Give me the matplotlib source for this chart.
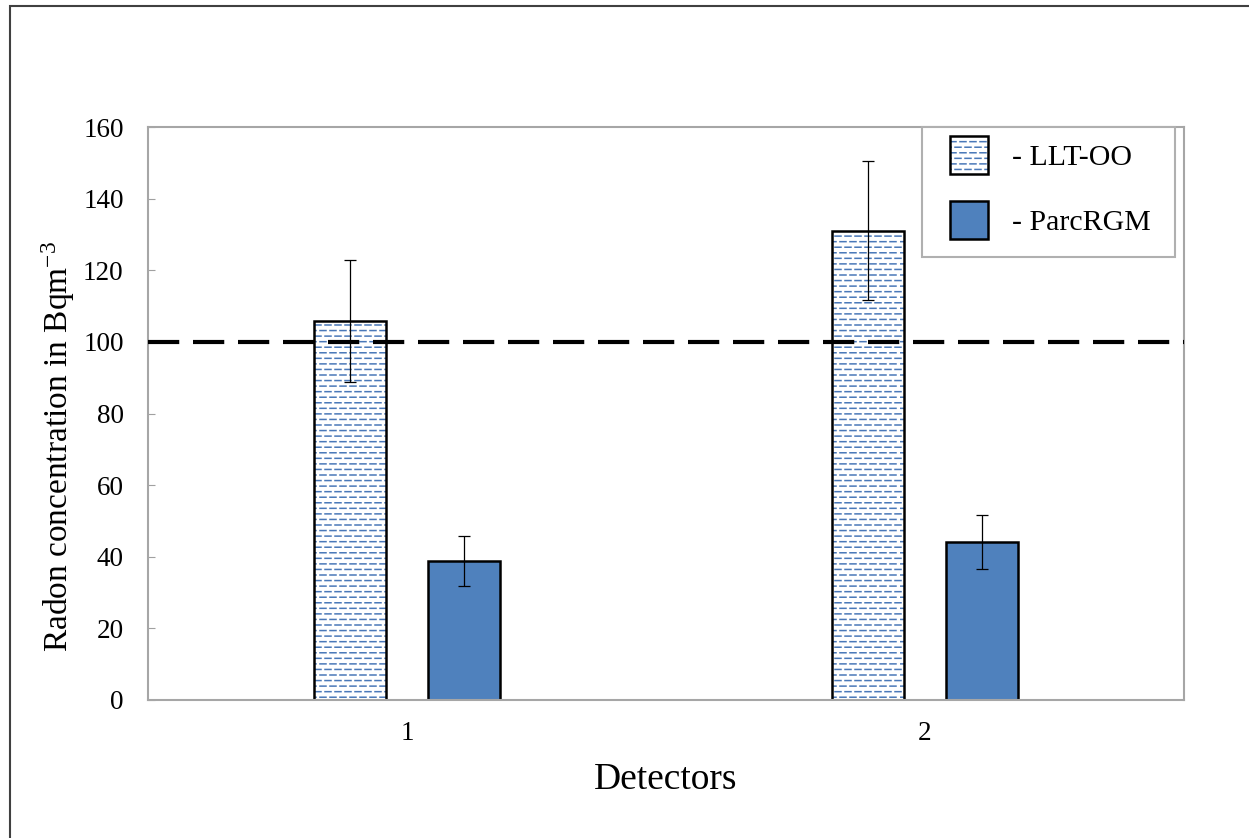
import numpy as np
from matplotlib import pyplot as plt
import matplotlib.hatch as mhatch
from matplotlib.path import Path
from matplotlib.patches import Rectangle

# data
detectors = ['1', '2']
llt_oo = [105.8, 131.0]
llt_oo_err = [17.0, 19.4]
parc_rgm = [38.8, 44.1]
parc_rgm_err = [7.0, 7.5]
threshold = 100
yticks = [0, 20, 40, 60, 80, 100, 120, 140, 160]


# excel-like "dashed horizontal" fill: short staggered dashes instead of full lines
class DashHatch(mhatch.HatchPatternBase):
    def __init__(self, hatch, density):
        self.num_rows = int(hatch.count('-') * density)
        self.num_dash = 10
        self.num_vertices = self.num_rows * (self.num_dash + 1) * 2

    def set_vertices_and_codes(self, vertices, codes):
        p = 1.0 / self.num_dash
        i = 0
        for r in range(self.num_rows):
            y = (r + 0.5) / self.num_rows
            off = 0.5 * p if r % 2 else 0.0
            for k in range(-1, self.num_dash):
                x0 = off + k * p
                x1 = x0 + 0.6 * p
                x0, x1 = max(x0, 0.0), min(x1, 1.0)
                if x1 <= x0:
                    x0 = x1 = 0.0
                vertices[i] = (x0, y)
                vertices[i + 1] = (x1, y)
                codes[i] = Path.MOVETO
                codes[i + 1] = Path.LINETO
                i += 2


mhatch._hatch_types = [DashHatch if t is mhatch.HorizontalHatch else t
                       for t in mhatch._hatch_types]

plt.rcParams['font.family'] = ['Liberation Serif', 'DejaVu Serif']
plt.rcParams['mathtext.fontset'] = 'custom'
plt.rcParams['mathtext.rm'] = 'Liberation Serif'
plt.rcParams['mathtext.it'] = 'Liberation Serif:italic'
plt.rcParams['hatch.linewidth'] = 1.1

fig = plt.figure(figsize=(12.49, 8.38), dpi=100)
ax = fig.add_axes([0.1185, 0.1647, 0.8295, 0.6837])

x = np.arange(len(detectors))
w = 0.139
off = 0.11
blue = '#4f81bd'

h1 = ax.bar(x - off, llt_oo, w, color='white', edgecolor='#4a78b8', hatch='---',
            linewidth=0, zorder=2)
h1b = ax.bar(x - off, llt_oo, w, fill=False, edgecolor='black', linewidth=1.8, zorder=2.1)
h2 = ax.bar(x + off, parc_rgm, w, color=blue, edgecolor='black', linewidth=1.8, zorder=2)

ax.axhline(threshold, color='black', linewidth=3, dashes=(7.5, 3.3), zorder=3)

ax.errorbar(x - off, llt_oo, yerr=llt_oo_err, fmt='none', ecolor='black',
            elinewidth=0.9, capsize=4.5, capthick=0.9, zorder=4)
ax.errorbar(x + off, parc_rgm, yerr=parc_rgm_err, fmt='none', ecolor='black',
            elinewidth=0.9, capsize=4.5, capthick=0.9, zorder=4)

ax.set_xlim(-0.5, 1.5)
ax.set_ylim(0, 160)
ax.set_yticks(yticks)
ax.set_xticks(x)
ax.set_xticklabels(detectors)
ax.tick_params(axis='y', direction='in', length=5, color='#a0a0a0', labelsize=19.5, pad=17.5)
ax.tick_params(axis='x', length=0, labelsize=19.5, pad=15)
for s in ax.spines.values():
    s.set_color('#a6a6a6')
    s.set_linewidth(1.5)

ax.set_ylabel('Radon concentration in Bqm$^{-3}$', fontsize=24)
ax.yaxis.set_label_coords(-0.069, 0.443)
ax.set_xlabel('Detectors', fontsize=27, labelpad=12)

# legend without its own frame, boxed separately to get the wide excel padding
leg = ax.legend([(h1[0], h1b[0]), h2[0]], ['- LLT-OO', '- ParcRGM'],
                loc='upper left', bbox_to_anchor=(0.774, 0.984), borderaxespad=0,
                fontsize=21.5, handlelength=1.27, handleheight=1.58, handletextpad=0.8,
                labelspacing=0.9, borderpad=0, frameon=False)
ax.add_patch(Rectangle((0.747, 0.773), 0.244, 0.227, transform=ax.transAxes,
                       facecolor='white', edgecolor='#b0b0b0', linewidth=1.5,
                       zorder=4.5, clip_on=False))
leg.set_zorder(5)

# outer chart frame (only left and top edges visible in the original)
fig.patches.append(Rectangle((10 / 1249, -0.1), 1.2, (838 - 6) / 838 + 0.1,
                             transform=fig.transFigure, fill=False,
                             edgecolor='#404040', linewidth=1.5))

fig.savefig('out.png', dpi=100)
